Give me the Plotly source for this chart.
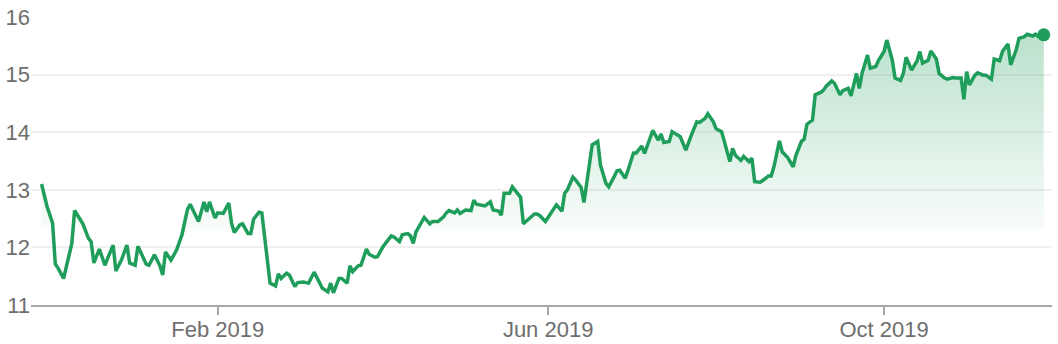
import plotly.graph_objects as go

dates = [
    "2018-11-29", "2018-12-01", "2018-12-03", "2018-12-04", "2018-12-05", "2018-12-07",
    "2018-12-10", "2018-12-11", "2018-12-14", "2018-12-16", "2018-12-17", "2018-12-18",
    "2018-12-20", "2018-12-22", "2018-12-23", "2018-12-25", "2018-12-26", "2018-12-28",
    "2018-12-30", "2018-12-31", "2019-01-02", "2019-01-03", "2019-01-06", "2019-01-07",
    "2019-01-09", "2019-01-11", "2019-01-12", "2019-01-13", "2019-01-15", "2019-01-17",
    "2019-01-19", "2019-01-21", "2019-01-22", "2019-01-25", "2019-01-27", "2019-01-28",
    "2019-01-29", "2019-01-31", "2019-02-01", "2019-02-03", "2019-02-05", "2019-02-06",
    "2019-02-07", "2019-02-09", "2019-02-10", "2019-02-12", "2019-02-13", "2019-02-14",
    "2019-02-16", "2019-02-17", "2019-02-20", "2019-02-22", "2019-02-23", "2019-02-24",
    "2019-02-26", "2019-02-27", "2019-03-01", "2019-03-02", "2019-03-04", "2019-03-06",
    "2019-03-08", "2019-03-10", "2019-03-11", "2019-03-13", "2019-03-14", "2019-03-15",
    "2019-03-17", "2019-03-18", "2019-03-20", "2019-03-21", "2019-03-22", "2019-03-24",
    "2019-03-25", "2019-03-27", "2019-03-28", "2019-03-30", "2019-03-31", "2019-04-02",
    "2019-04-03", "2019-04-05", "2019-04-06", "2019-04-08", "2019-04-09", "2019-04-11",
    "2019-04-12", "2019-04-13", "2019-04-14", "2019-04-16", "2019-04-17", "2019-04-19",
    "2019-04-20", "2019-04-22", "2019-04-24", "2019-04-25", "2019-04-26", "2019-04-28",
    "2019-04-29", "2019-04-30", "2019-05-02", "2019-05-04", "2019-05-05", "2019-05-06",
    "2019-05-08", "2019-05-09", "2019-05-11", "2019-05-12", "2019-05-14", "2019-05-15",
    "2019-05-16", "2019-05-18", "2019-05-19", "2019-05-21", "2019-05-22", "2019-05-23",
    "2019-05-25", "2019-05-27", "2019-05-28", "2019-05-29", "2019-05-31", "2019-06-02",
    "2019-06-04", "2019-06-06", "2019-06-07", "2019-06-08", "2019-06-10", "2019-06-11",
    "2019-06-13", "2019-06-14", "2019-06-17", "2019-06-19", "2019-06-20", "2019-06-22",
    "2019-06-23", "2019-06-25", "2019-06-26", "2019-06-27", "2019-06-29", "2019-06-30",
    "2019-07-02", "2019-07-03", "2019-07-05", "2019-07-06", "2019-07-08", "2019-07-09",
    "2019-07-11", "2019-07-12", "2019-07-13", "2019-07-15", "2019-07-16", "2019-07-18",
    "2019-07-19", "2019-07-21", "2019-07-22", "2019-07-23", "2019-07-25", "2019-07-26",
    "2019-07-28", "2019-07-29", "2019-07-31", "2019-08-01", "2019-08-03", "2019-08-04",
    "2019-08-05", "2019-08-06", "2019-08-07", "2019-08-08", "2019-08-10", "2019-08-11",
    "2019-08-13", "2019-08-14", "2019-08-15", "2019-08-17", "2019-08-19", "2019-08-20",
    "2019-08-21", "2019-08-22", "2019-08-24", "2019-08-25", "2019-08-27", "2019-08-29",
    "2019-08-30", "2019-09-01", "2019-09-02", "2019-09-03", "2019-09-05", "2019-09-06",
    "2019-09-08", "2019-09-09", "2019-09-10", "2019-09-12", "2019-09-13", "2019-09-15",
    "2019-09-16", "2019-09-18", "2019-09-19", "2019-09-21", "2019-09-22", "2019-09-23",
    "2019-09-25", "2019-09-26", "2019-09-28", "2019-09-29", "2019-10-01", "2019-10-02",
    "2019-10-04", "2019-10-05", "2019-10-07", "2019-10-08", "2019-10-09", "2019-10-11",
    "2019-10-13", "2019-10-14", "2019-10-15", "2019-10-17", "2019-10-18", "2019-10-20",
    "2019-10-21", "2019-10-23", "2019-10-24", "2019-10-26", "2019-10-27", "2019-10-29",
    "2019-10-30", "2019-10-31", "2019-11-01", "2019-11-03", "2019-11-04", "2019-11-06",
    "2019-11-07", "2019-11-09", "2019-11-10", "2019-11-12", "2019-11-13", "2019-11-15",
    "2019-11-16", "2019-11-18", "2019-11-19", "2019-11-21", "2019-11-22", "2019-11-24",
    "2019-11-25", "2019-11-26", "2019-11-28",
]

prices = [
    13.10, 12.71, 12.42, 11.71, 11.64, 11.46,
    12.07, 12.64, 12.41, 12.16, 12.10, 11.73,
    11.97, 11.69, 11.81, 12.04, 11.59, 11.78,
    12.04, 11.73, 11.69, 12.02, 11.71, 11.69,
    11.87, 11.68, 11.52, 11.92, 11.78, 11.95,
    12.22, 12.66, 12.75, 12.45, 12.79, 12.62,
    12.79, 12.51, 12.60, 12.59, 12.77, 12.42,
    12.26, 12.39, 12.41, 12.24, 12.24, 12.49,
    12.61, 12.60, 11.38, 11.33, 11.54, 11.46,
    11.55, 11.52, 11.32, 11.39, 11.40, 11.38,
    11.57, 11.40, 11.29, 11.23, 11.38, 11.21,
    11.46, 11.46, 11.38, 11.68, 11.58, 11.68,
    11.69, 11.97, 11.88, 11.83, 11.84, 12.01,
    12.07, 12.20, 12.18, 12.10, 12.22, 12.24,
    12.20, 12.07, 12.27, 12.43, 12.52, 12.41,
    12.45, 12.45, 12.53, 12.60, 12.64, 12.60,
    12.65, 12.59, 12.65, 12.64, 12.82, 12.75,
    12.72, 12.72, 12.79, 12.65, 12.63, 12.56,
    12.94, 12.94, 13.05, 12.94, 12.87, 12.41,
    12.49, 12.58, 12.58, 12.55, 12.45, 12.59,
    12.74, 12.63, 12.94, 13.00, 13.22, 13.17,
    13.04, 12.78, 13.78, 13.84, 13.43, 13.11,
    13.05, 13.23, 13.33, 13.34, 13.20, 13.34,
    13.64, 13.64, 13.76, 13.63, 13.90, 14.03,
    13.86, 13.97, 13.82, 13.84, 14.01, 13.95,
    13.92, 13.69, 13.84, 13.95, 14.18, 14.17,
    14.24, 14.32, 14.18, 14.06, 14.01, 13.85,
    13.69, 13.49, 13.72, 13.60, 13.51, 13.58,
    13.49, 13.55, 13.14, 13.13, 13.20, 13.24,
    13.24, 13.40, 13.85, 13.66, 13.56, 13.40,
    13.60, 13.84, 13.88, 14.14, 14.21, 14.65,
    14.69, 14.73, 14.80, 14.89, 14.85, 14.65,
    14.72, 14.76, 14.63, 15.02, 14.76, 15.02,
    15.34, 15.11, 15.14, 15.25, 15.40, 15.60,
    15.25, 14.94, 14.90, 15.02, 15.30, 15.08,
    15.24, 15.40, 15.20, 15.25, 15.41, 15.27,
    15.02, 14.94, 14.92, 14.95, 14.94, 14.94,
    14.57, 15.05, 14.82, 14.99, 15.03, 14.99,
    14.99, 14.92, 15.27, 15.24, 15.40, 15.53,
    15.17, 15.43, 15.63, 15.66, 15.70, 15.67,
    15.70, 15.66, 15.69,
]

tick_dates = ["2019-02-01", "2019-06-01", "2019-10-01"]
tick_labels = ["Feb 2019", "Jun 2019", "Oct 2019"]
y_ticks = [11, 12, 13, 14, 15, 16]

GREEN = "#1f9d5a"

fig = go.Figure()
fig.add_trace(go.Scatter(
    x=dates, y=prices, mode="lines",
    line=dict(color=GREEN, width=3.5),
    fill="tozeroy",
    fillgradient=dict(
        type="vertical", start=12.32, stop=16,
        colorscale=[[0, "rgba(31,157,90,0)"], [0.002, "rgba(31,157,90,0.03)"],
                    [1, "rgba(31,157,90,0.33)"]],
    ),
    hoverinfo="skip",
))
fig.add_trace(go.Scatter(
    x=[dates[-1]], y=[prices[-1]], mode="markers",
    marker=dict(color=GREEN, size=13),
    hoverinfo="skip",
))

fig.update_layout(
    width=1058, height=344,
    margin=dict(l=31, r=6, t=17, b=39),
    plot_bgcolor="white", paper_bgcolor="white",
    showlegend=False,
    font=dict(family="Liberation Sans, Arial, sans-serif", size=22, color="#6e6e6e"),
)
fig.update_xaxes(
    automargin=False,
    range=["2018-11-25 04:00", "2019-12-01"],
    tickvals=tick_dates, ticktext=tick_labels,
    showgrid=False, zeroline=False,
    showline=True, linecolor="#a8a8a8", linewidth=2,
    ticks="outside", ticklen=8, tickcolor="#a8a8a8", tickwidth=2,
    ticklabelstandoff=-4,
)
fig.update_yaxes(
    automargin=False,
    range=[11, 16], tickvals=y_ticks,
    showgrid=True, gridcolor="#f0f0f0", gridwidth=1.5,
    zeroline=False, showline=False, ticks="",
)

fig.write_html("out.html")
